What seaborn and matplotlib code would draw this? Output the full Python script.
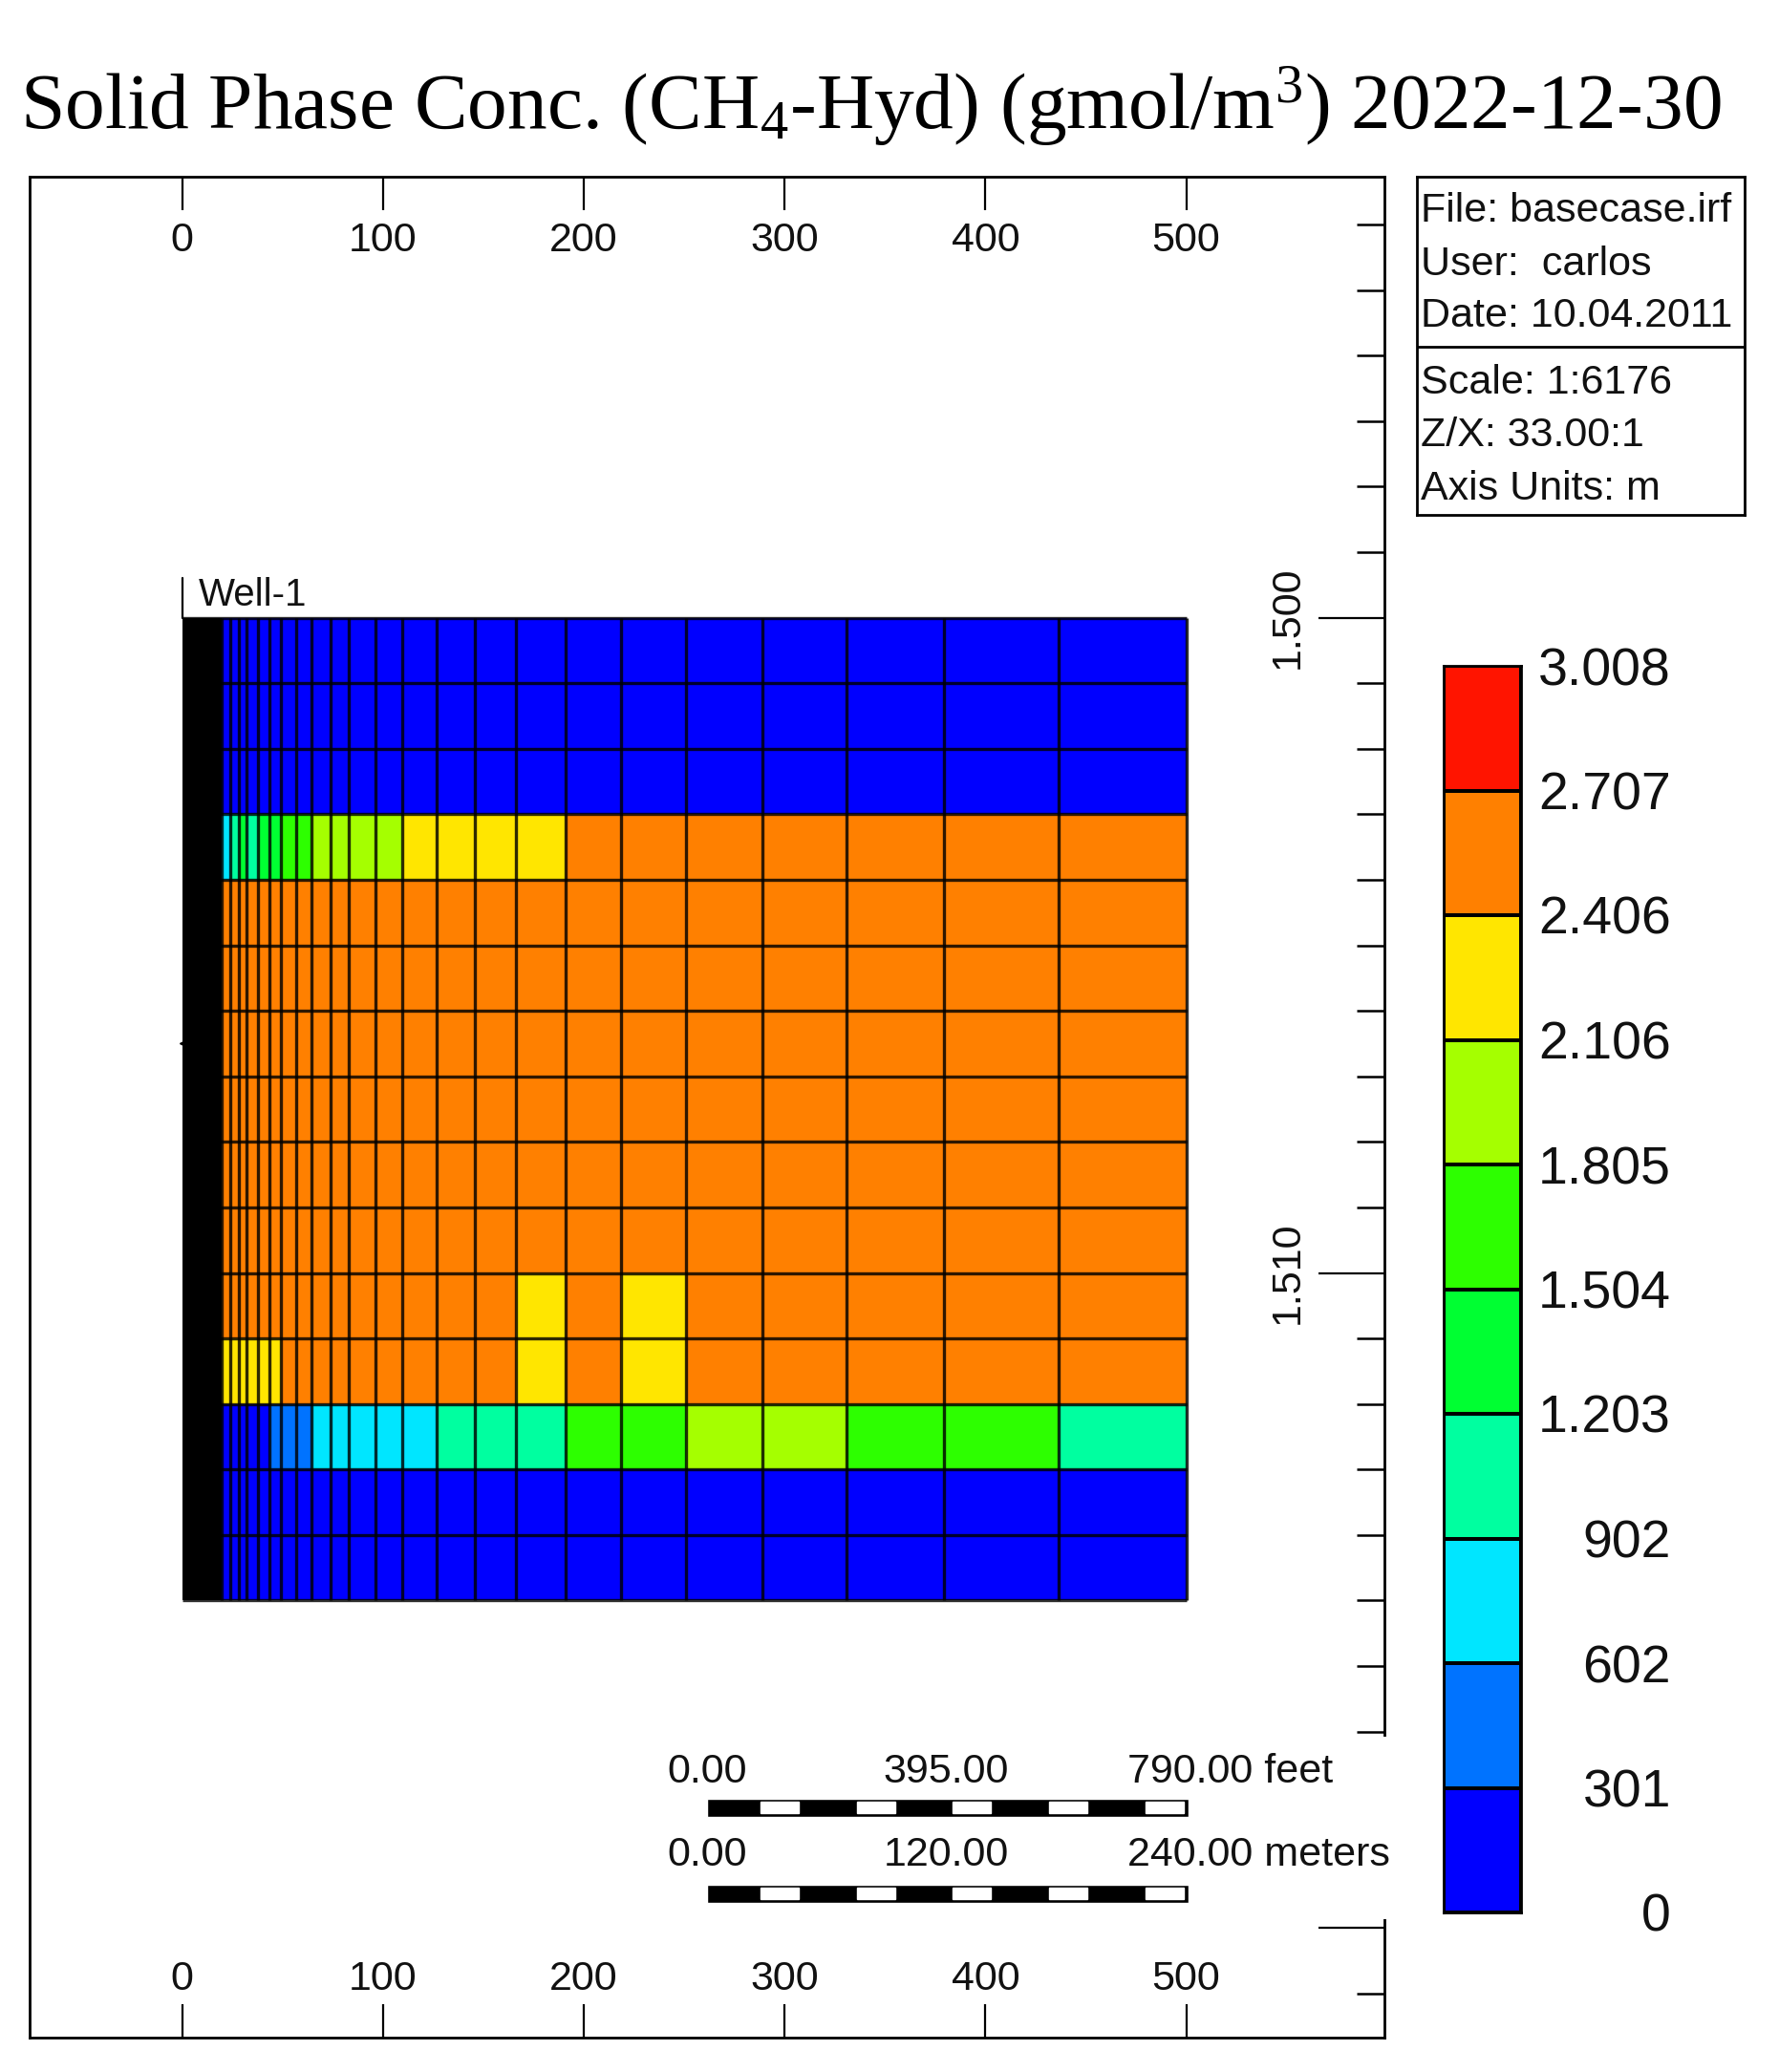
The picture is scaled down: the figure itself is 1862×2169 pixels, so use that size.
import numpy as np
import matplotlib
matplotlib.use("Agg")
import matplotlib.pyplot as plt
from matplotlib.colors import ListedColormap, BoundaryNorm
from matplotlib.patches import Rectangle
import seaborn as sns

W, H = 1862, 2169

title = r"Solid Phase Conc. (CH$_4$-Hyd) (gmol/m$^3$) 2022-12-30"
levels = [0, 301, 602, 902, 1203, 1504, 1805, 2106, 2406, 2707, 3008]
level_labels = ["0", "301", "602", "902", "1.203", "1.504", "1.805", "2.106", "2.406", "2.707", "3.008"]
colors = ["#0000ff", "#0073ff", "#00e6ff", "#00ffa0", "#00ff32",
          "#2dff00", "#a5ff00", "#ffe600", "#ff8000", "#ff1400"]
band_values = [2850, 2550, 2250, 1950, 1650, 1350, 1050, 750, 450, 150]

# column edges in metres (the well column 0-19.5 is so dense that it prints black)
x_edges = [0, 19.5, 24.1, 28.3, 32.2, 37.8, 43.6, 49.2, 56.8, 64.3, 73.8, 83.1, 96.4,
           109.5, 126.6, 145.6, 166.2, 190.8, 218.7, 251, 288.9, 330.7, 379.6, 436.3, 500]
z_edges = [1500, 1501, 1502, 1503, 1504, 1505, 1506, 1507, 1508, 1509, 1510,
           1511, 1512, 1513, 1514, 1515]

nan = float("nan")
B, M, C, S, G, L, Y, J, O = 150, 450, 750, 1050, 1350, 1650, 1950, 2250, 2550
row_blue = [nan] + [B] * 23
row_3 = [nan, C, S, G, S, G, G, L, L, Y, Y, Y, Y, J, J, J, J, O, O, O, O, O, O, O]
row_orange = [nan] + [O] * 23
row_10 = [nan] + [O] * 15 + [J, O, J, O, O, O, O, O]
row_11 = [nan] + [J] * 6 + [O] * 9 + [J, O, J, O, O, O, O, O]
row_12 = [nan, B, B, B, B, B, M, M, M, C, C, C, C, C, S, S, S, L, L, Y, Y, L, L, S]
rows = [row_blue, row_blue, row_blue, row_3,
        row_orange, row_orange, row_orange, row_orange, row_orange, row_orange,
        row_10, row_11, row_12, row_blue, row_blue]

x_ticks = [0, 100, 200, 300, 400, 500]
z_major = [1500, 1510, 1520]
z_major_labels = ["1.500", "1.510", ""]
z_minor = [1494, 1495, 1496, 1497, 1498, 1499, 1501, 1502, 1503, 1504, 1505, 1506, 1507,
           1508, 1509, 1511, 1512, 1513, 1514, 1515, 1516, 1517, 1521]
info_lines = ["File: basecase.irf", "User:  carlos", "Date: 10.04.2011",
              "Scale: 1:6176", "Z/X: 33.00:1", "Axis Units: m"]
info_y = [221, 277, 331, 401, 456, 512]
scale_feet = ["0.00", "395.00", "790.00 feet"]
scale_meters = ["0.00", "120.00", "240.00 meters"]
scale_segments = [261.4, 285.4, 309.4, 333.4, 357.4, 381.4, 405.4, 429.4, 453.4, 477.4, 501.4]

sns.set_theme(style="white")
plt.rcParams["font.family"] = ["Liberation Sans", "DejaVu Sans"]
plt.rcParams["mathtext.fontset"] = "custom"
plt.rcParams["mathtext.rm"] = "Liberation Serif"
plt.rcParams["mathtext.default"] = "regular"

fig = plt.figure(figsize=(W / 100, H / 100), dpi=100, facecolor="white")


def box(l, t, r, b):
    return [l / W, 1 - b / H, (r - l) / W, (b - t) / H]


cmap = ListedColormap(colors)
cmap.set_bad("black")
norm = BoundaryNorm(levels, cmap.N)

# main section
ax = fig.add_axes(box(31, 185, 1449, 2133))
ax.pcolormesh(x_edges, z_edges, np.ma.masked_invalid(np.array(rows)), cmap=cmap, norm=norm,
              linewidth=0)
ax.vlines(x_edges[1:], z_edges[0], z_edges[-1], color="black", alpha=0.82, lw=2.4, zorder=2)
ax.hlines(z_edges, x_edges[0], x_edges[-1], color="black", alpha=0.82, lw=2.4, zorder=2)
ax.set_xlim(-75.9, 598.7)
ax.set_ylim(1521.67, 1493.27)
for s in ax.spines.values():
    s.set_linewidth(2.0)
    s.set_color("black")

ax.set_xticks(x_ticks)
ax.set_xticklabels([str(v) for v in x_ticks])
ax.tick_params(axis="x", direction="in", length=25, width=1.6, color="black",
               top=False, bottom=True, labeltop=False, labelbottom=True,
               labelsize=31, pad=-58, labelcolor="#111111")
top_axis = ax.secondary_xaxis("top")
top_axis.set_xticks(x_ticks)
top_axis.set_xticklabels([str(v) for v in x_ticks])
top_axis.spines["top"].set_visible(False)
top_axis.tick_params(axis="x", direction="in", length=25, width=1.6, color="black",
                     labelsize=31, pad=-63, labelcolor="#111111")
ax.set_yticks(z_major)
ax.set_yticklabels(z_major_labels, rotation=90, va="center")
ax.set_yticks(z_minor, minor=True)
ax.tick_params(axis="y", which="major", direction="in", length=50, width=1.6, color="black",
               left=False, right=True, labelleft=False, labelright=True,
               labelsize=31, pad=-87, labelcolor="#111111")
ax.tick_params(axis="y", which="minor", direction="in", length=21, width=1.8, color="black",
               left=False, right=True)

# the scale bar block blanks the right frame line
ax.add_patch(Rectangle((560, 1517.08), 60, 2.78, facecolor="white", edgecolor="none",
                       clip_on=False, zorder=2.7))

# well
ax.plot([x_edges[0], x_edges[0]], [z_edges[0], 1499.4], color="black", lw=1.6, clip_on=False)
ax.text(8, 1499.66, "Well-1", fontsize=29, va="center", ha="left", color="#111111")
ax.plot([0], [1506.5], marker="<", color="black", ms=5, zorder=3)

# scale bars
seg = np.array(scale_segments)
for yc, labels, yt in [(1518.16, scale_feet, 1517.62), (1519.47, scale_meters, 1518.89)]:
    ax.barh(yc, seg[-1] - seg[0], left=seg[0], height=0.276, color="black", zorder=3)
    ax.barh([yc] * 5, (seg[1:] - seg[:-1])[1::2] - 5, left=seg[1::2] + 2.5, height=0.175,
            color="white", zorder=3.1)
    ax.text(seg[0], yt, labels[0], ha="center", va="center", fontsize=31, color="#111111", zorder=4)
    ax.text(seg[5] - 1, yt, labels[1], ha="center", va="center", fontsize=31, color="#111111", zorder=4)
    ax.text(470.5, yt, labels[2], ha="left", va="center", fontsize=31, color="#111111", zorder=4)

# colour bar
cax = fig.add_axes(box(1511, 697, 1592, 2002))
sns.heatmap(np.array(band_values).reshape(-1, 1), cmap=cmap, norm=norm, cbar=False,
            linewidths=1.6, linecolor="black", ax=cax, xticklabels=False, yticklabels=False)
for s in cax.spines.values():
    s.set_visible(True)
    s.set_linewidth(2.0)
    s.set_color("black")
cax.yaxis.tick_right()
cax.set_yticks(range(len(level_labels)))
cax.set_yticklabels(level_labels[::-1], rotation=0, ha="right", va="center_baseline")
cax.tick_params(axis="y", length=0, pad=113, labelsize=40, labelcolor="#111111")

# information box
iax = fig.add_axes(box(1483, 185, 1826, 539))
iax.set_xticks([])
iax.set_yticks([])
iax.set_xlim(0, 1)
iax.set_ylim(1, 0)
iax.axhline(0.503, color="black", lw=2.0)
for s in iax.spines.values():
    s.set_linewidth(2.0)
    s.set_color("black")
for line, y in zip(info_lines, info_y):
    fig.text(1487 / W, 1 - y / H, line, fontsize=31, va="center", ha="left", color="#111111")

fig.text(21 / W, 1 - 135 / H, title, family="Liberation Serif", fontsize=60, va="baseline", ha="left",
         color="black")

fig.savefig("out.png", dpi=100, facecolor="white")
